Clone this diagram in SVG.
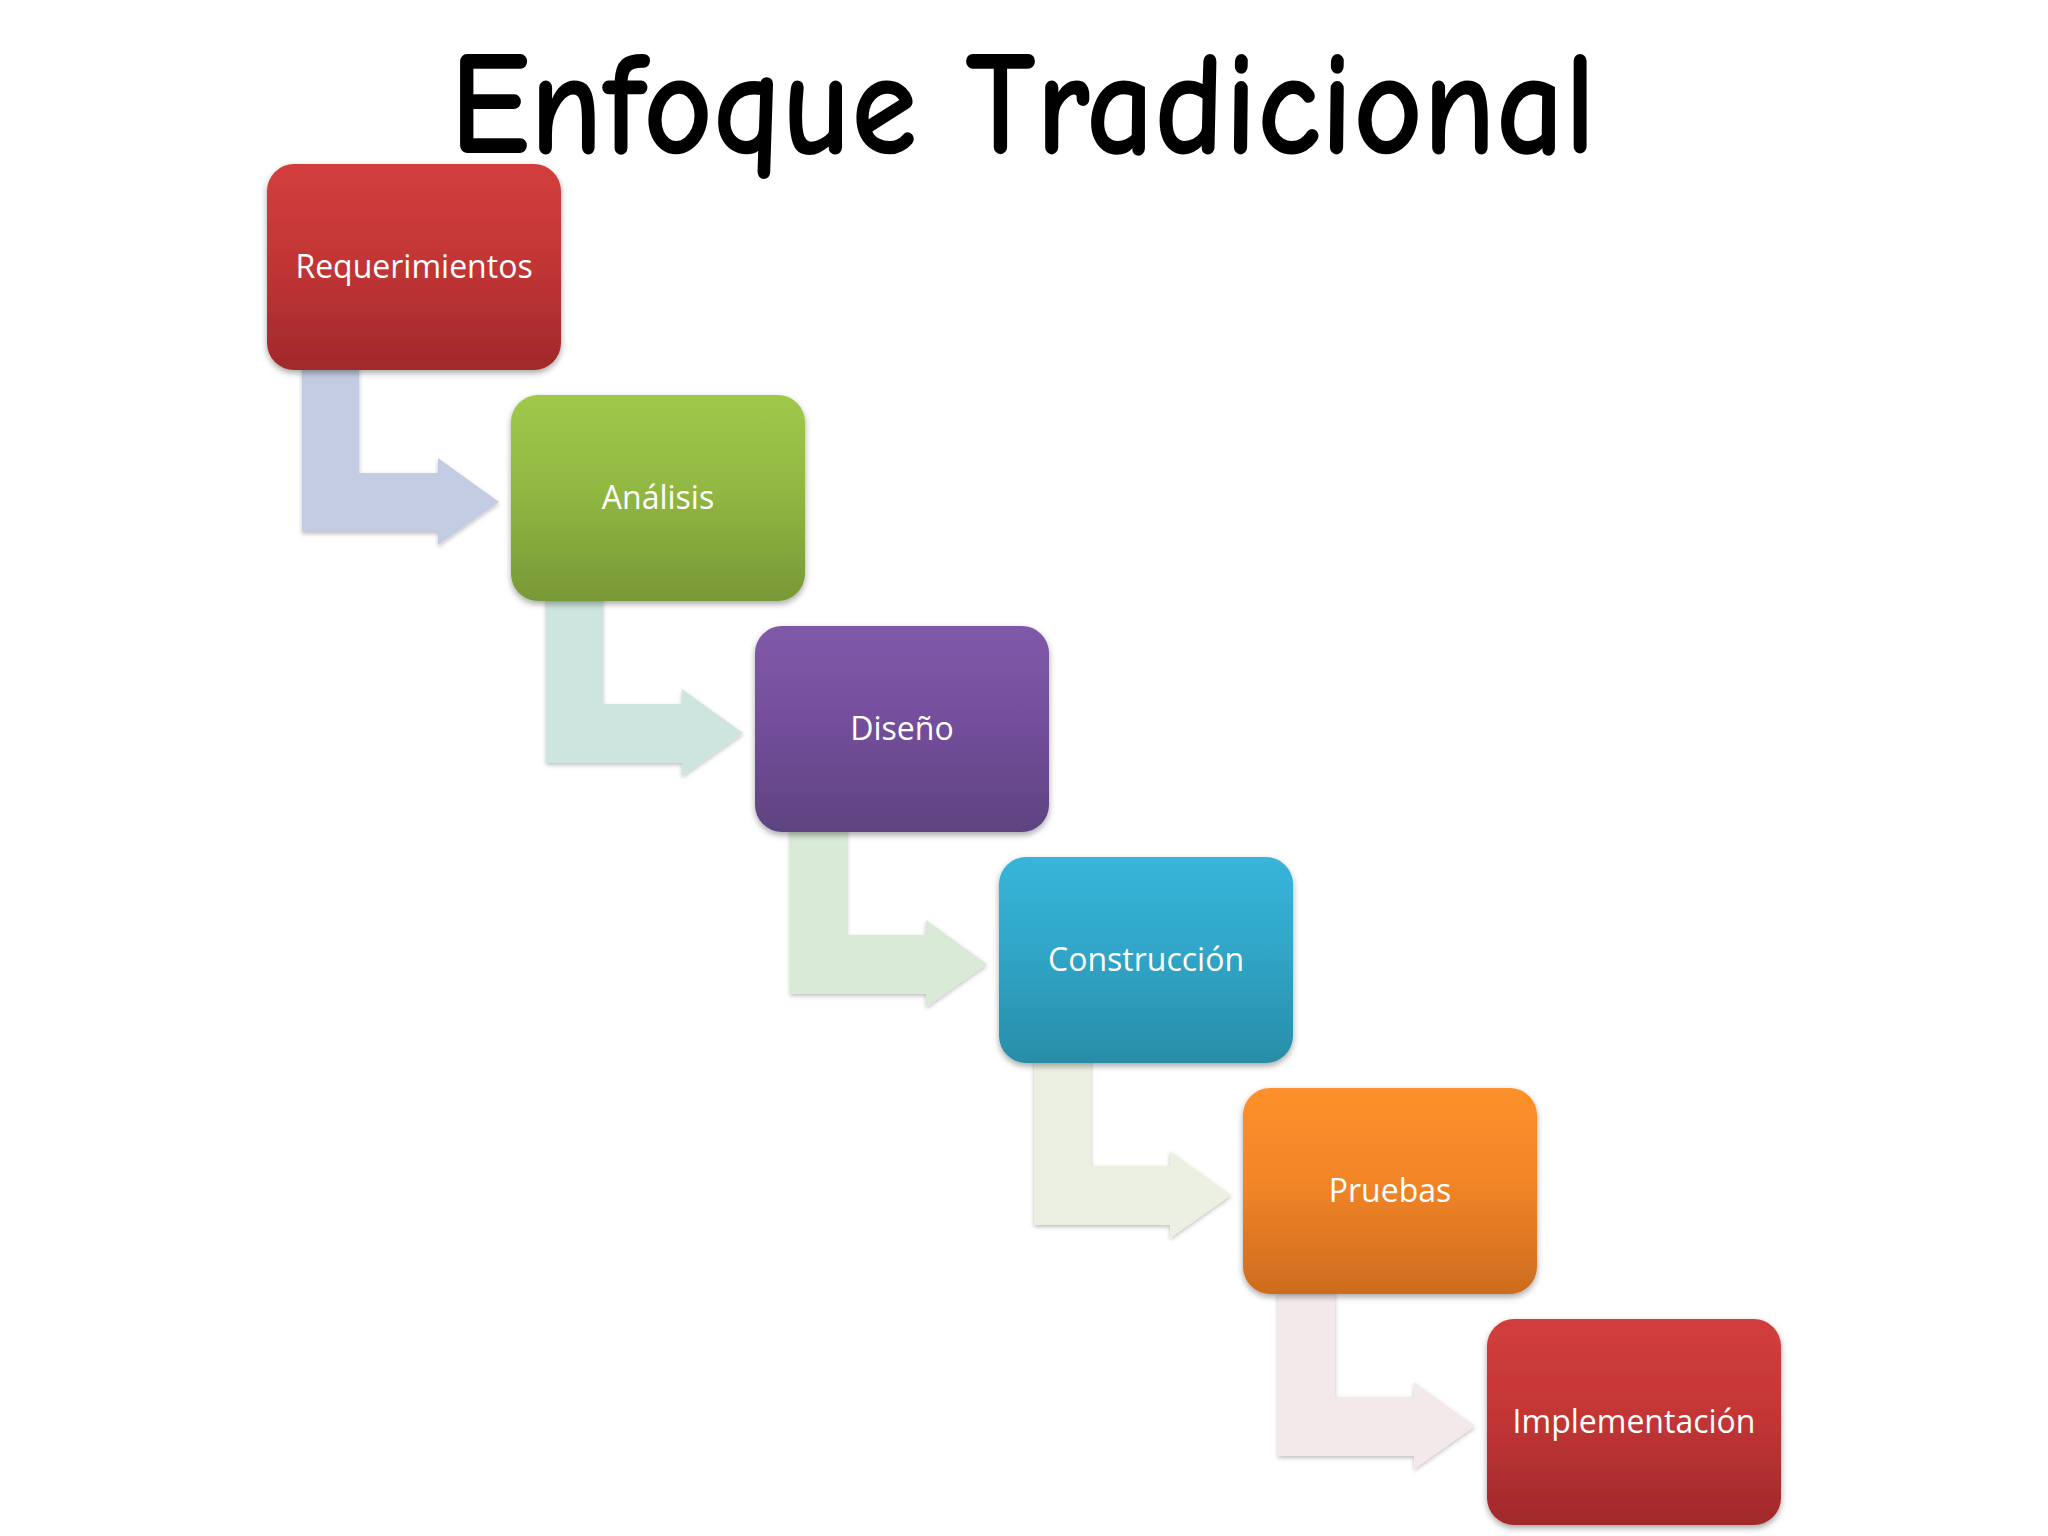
<svg xmlns="http://www.w3.org/2000/svg" width="2048" height="1536" viewBox="0 0 2048 1536">
<style>
.title{font-family:"Comic Sans MS","Comic Neue","DejaVu Sans",sans-serif;font-size:148px;font-weight:700;fill:#000}
.lbl{font-family:"Open Sans","Noto Sans","DejaVu Sans",sans-serif;font-size:32px;fill:#fff;text-anchor:middle}
.box{filter:url(#sh)}
.arr{filter:url(#sha)}
</style>
<defs>
<filter id="sh" x="-10%" y="-10%" width="120%" height="125%">
<feDropShadow dx="0" dy="3" stdDeviation="3" flood-color="#000" flood-opacity="0.35"/>
</filter>
<filter id="sha" x="-10%" y="-10%" width="120%" height="125%">
<feDropShadow dx="0" dy="2" stdDeviation="2" flood-color="#000" flood-opacity="0.25"/>
</filter>
<linearGradient id="gRed" x1="0" y1="0" x2="0" y2="1">
<stop offset="0" stop-color="#d23e3e"/><stop offset="0.45" stop-color="#c43636"/><stop offset="1" stop-color="#a0292b"/>
</linearGradient>
<linearGradient id="gGreen" x1="0" y1="0" x2="0" y2="1">
<stop offset="0" stop-color="#a0c849"/><stop offset="0.45" stop-color="#92b843"/><stop offset="1" stop-color="#789837"/>
</linearGradient>
<linearGradient id="gPurple" x1="0" y1="0" x2="0" y2="1">
<stop offset="0" stop-color="#8059a9"/><stop offset="0.45" stop-color="#744f9c"/><stop offset="1" stop-color="#5f4381"/>
</linearGradient>
<linearGradient id="gCyan" x1="0" y1="0" x2="0" y2="1">
<stop offset="0" stop-color="#37b5d9"/><stop offset="0.45" stop-color="#30a6c8"/><stop offset="1" stop-color="#288da8"/>
</linearGradient>
<linearGradient id="gOrange" x1="0" y1="0" x2="0" y2="1">
<stop offset="0" stop-color="#fe902d"/><stop offset="0.45" stop-color="#f28527"/><stop offset="1" stop-color="#cd6c1e"/>
</linearGradient>
<path id="bent" d="M35,190 L92,190 L92,309 L171,309 L171,294 L232,338 L171,381 L171,368 L35,368 Z"/>
</defs>
<rect width="2048" height="1536" fill="#fff"/>
<text class="title" x="1023" y="153" text-anchor="middle" textLength="1146" lengthAdjust="spacingAndGlyphs">Enfoque Tradicional</text>
<g id="connectors">
<use href="#bent" class="arr" fill="#c3cce2" transform="translate(267,164)"/>
<use href="#bent" class="arr" fill="#cde5de" transform="translate(511,395)"/>
<use href="#bent" class="arr" fill="#d9ead6" transform="translate(755,626)"/>
<use href="#bent" class="arr" fill="#ecf0e2" transform="translate(999,857)"/>
<use href="#bent" class="arr" fill="#f3e9ea" transform="translate(1243,1088)"/>
</g>
<g id="n1"><rect class="box" x="267" y="164" width="294" height="206" rx="27" fill="url(#gRed)"/><text class="lbl" x="414" y="278">Requerimientos</text></g>
<g id="n2"><rect class="box" x="511" y="395" width="294" height="206" rx="27" fill="url(#gGreen)"/><text class="lbl" x="658" y="509">Análisis</text></g>
<g id="n3"><rect class="box" x="755" y="626" width="294" height="206" rx="27" fill="url(#gPurple)"/><text class="lbl" x="902" y="740">Diseño</text></g>
<g id="n4"><rect class="box" x="999" y="857" width="294" height="206" rx="27" fill="url(#gCyan)"/><text class="lbl" x="1146" y="971">Construcción</text></g>
<g id="n5"><rect class="box" x="1243" y="1088" width="294" height="206" rx="27" fill="url(#gOrange)"/><text class="lbl" x="1390" y="1202">Pruebas</text></g>
<g id="n6"><rect class="box" x="1487" y="1319" width="294" height="206" rx="27" fill="url(#gRed)"/><text class="lbl" x="1634" y="1433">Implementación</text></g>
</svg>
